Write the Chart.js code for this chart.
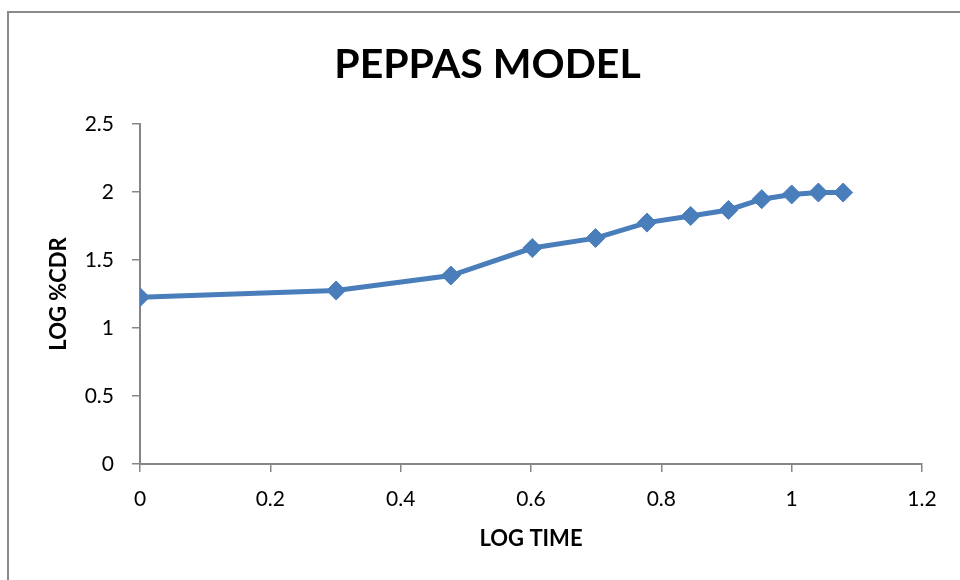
<!DOCTYPE html>
<html>
<head>
<meta charset="utf-8">
<title>PEPPAS MODEL</title>
<script src="https://cdn.jsdelivr.net/npm/chart.js@4/dist/chart.umd.min.js"></script>
<style>
  body { margin: 0; background: #fff; }
  #wrap { position: relative; width: 960px; height: 580px; overflow: hidden; }
  #frame {
    position: absolute; left: 7px; top: 11px; width: 980px; height: 600px;
    border-left: 2px solid #8a8a8a; border-top: 2px solid #8a8a8a;
    pointer-events: none;
  }
</style>
</head>
<body>
<div id="wrap">
  <canvas id="peppasChart" width="960" height="580"></canvas>
  <div id="frame"></div>
</div>
<script>
// log of time (hours 1..12) and log of % cumulative drug release
const logTime = [0, 0.301, 0.477, 0.602, 0.699, 0.778, 0.845, 0.903, 0.954, 1.0, 1.041, 1.079];
const logCDR  = [1.227, 1.276, 1.386, 1.588, 1.661, 1.775, 1.824, 1.868, 1.947, 1.982, 1.996, 1.996];

const xTicks = [0, 0.2, 0.4, 0.6, 0.8, 1, 1.2];
const yTicks = [0, 0.5, 1, 1.5, 2, 2.5];

const points = logTime.map((x, i) => ({ x: x, y: logCDR[i] }));

const axisGray = '#868686';
const fontFamily = 'Lato, "Open Sans", sans-serif';

// show 1 and 2 instead of 1.0 and 2.0, like the original
const plainNumber = (v) => String(+Number(v).toFixed(1));

const ctx = document.getElementById('peppasChart').getContext('2d');
new Chart(ctx, {
  type: 'scatter',
  data: {
    datasets: [{
      data: points,
      showLine: true,
      borderColor: '#4a7ebb',
      backgroundColor: '#4a7ebb',
      borderWidth: 5,
      pointStyle: 'rectRot',
      pointRadius: 9.5,
      pointHoverRadius: 9.5,
      pointBorderWidth: 1,
      tension: 0
    }]
  },
  options: {
    responsive: false,
    devicePixelRatio: 1,
    animation: false,
    layout: { padding: { left: 53, right: 38, top: 0, bottom: 0 } },
    plugins: {
      legend: { display: false },
      tooltip: { enabled: false },
      title: {
        display: true,
        text: 'PEPPAS MODEL',
        color: '#000',
        font: { family: fontFamily, size: 41, weight: 'bold', lineHeight: 1.2 },
        padding: { top: 40.4, bottom: 34.4 }
      }
    },
    scales: {
      x: {
        type: 'linear',
        min: 0,
        max: 1.2,
        afterBuildTicks: (scale) => { scale.ticks = xTicks.map(v => ({ value: v })); },
        afterFit: (scale) => { scale.height = 116; },
        ticks: { color: '#000', font: { family: fontFamily, size: 21 }, padding: 15, maxRotation: 0, callback: plainNumber },
        grid: { display: true, drawOnChartArea: false, drawTicks: true, tickLength: 8, color: axisGray, lineWidth: 1.5 },
        border: { color: axisGray, width: 2 },
        title: {
          display: true,
          text: 'LOG TIME',
          color: '#000',
          font: { family: fontFamily, size: 22, weight: 'bold', lineHeight: 1.2 },
          padding: { top: 0, bottom: 28 }
        }
      },
      y: {
        type: 'linear',
        min: 0,
        max: 2.5,
        afterBuildTicks: (scale) => { scale.ticks = yTicks.map(v => ({ value: v })); },
        afterFit: (scale) => { scale.width = 87; },
        ticks: { color: '#000', font: { family: fontFamily, size: 21 }, padding: 18, callback: plainNumber },
        grid: { display: true, drawOnChartArea: false, drawTicks: true, tickLength: 8, color: axisGray, lineWidth: 1.5 },
        border: { color: axisGray, width: 2 },
        title: {
          display: true,
          text: 'LOG %CDR',
          color: '#000',
          font: { family: fontFamily, size: 22, weight: 'bold', lineHeight: 0.5 },
          padding: { top: 0.5, bottom: 0 }
        }
      }
    }
  }
});
</script>
</body>
</html>
